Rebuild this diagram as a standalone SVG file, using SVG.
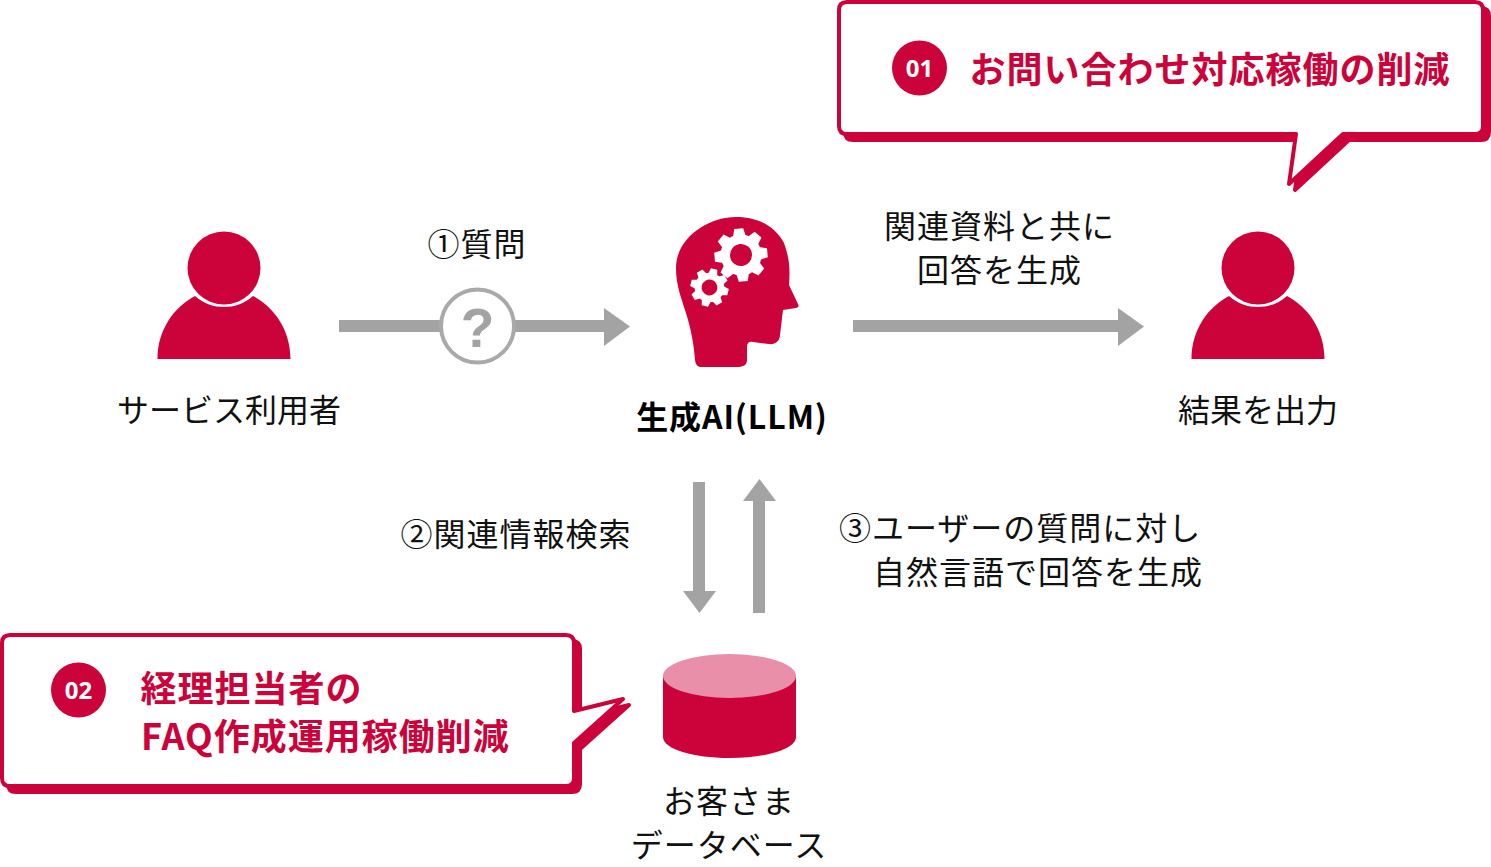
<svg xmlns="http://www.w3.org/2000/svg" width="1491" height="867" viewBox="0 0 1491 867">
<style>
text{font-family:"Noto Sans CJK JP","Noto Sans",sans-serif;font-size:32px;fill:#111}
.c{text-anchor:middle}
.s{letter-spacing:1px}
.b{font-weight:700;fill:#000;letter-spacing:.9px}
.r{fill:#cc033b}
.g{fill:#a3a3a3}
.t{font-size:36px;font-weight:700;fill:#cc033b;letter-spacing:1px}
.n{font-family:"Noto Sans",sans-serif;font-size:24px;font-weight:700;fill:#fff;text-anchor:middle}
</style>
<defs>
<g id="person"><path class="r" d="M-66.500,91 C-66.500,62 -50,39 -29,28 C-20,36 -10,39 0,39 C10,39 20,36 29,28 C50,39 66.500,62 66.500,91Z"/><circle class="r" cx="0" cy="0" r="36.500"/></g>
<path id="tooth" fill="#fff" d="M-6.500,-18 L-4.500,-26.500 H4.500 L6.500,-18Z"/>
<g id="gear"><circle r="20.500" fill="#fff"/><use href="#tooth"/><use href="#tooth" transform="rotate(45)"/><use href="#tooth" transform="rotate(90)"/><use href="#tooth" transform="rotate(135)"/><use href="#tooth" transform="rotate(180)"/><use href="#tooth" transform="rotate(225)"/><use href="#tooth" transform="rotate(270)"/><use href="#tooth" transform="rotate(315)"/><circle class="r" r="11"/></g>
</defs>
<rect width="1491" height="867" fill="#fff"/>
<g id="connectors">
<path class="g" d="M339,320H604V308L630,326.500L604,346V332H339Z"/>
<path class="g" d="M853,320H1118V308L1144,326.500L1118,346V332H853Z"/>
<path class="g" d="M693,482H705V591H716L699.500,613L683,591H693Z"/>
<path class="g" d="M753,613H765V501H776L759.500,479L743,501H753Z"/>
</g>
<g id="question"><circle cx="477.500" cy="326" r="36.500" fill="#fff" stroke="#a9a9a9" stroke-width="4"/><text class="c" x="477.500" y="347" style="font-family:'Liberation Sans',sans-serif;font-weight:700;font-size:55px;fill:#a3a3a3">?</text></g>
<g id="user"><use href="#person" x="224" y="268"/><text class="c" x="229" y="422">サービス利用者</text></g>
<g id="result"><use href="#person" x="1258" y="268"/><text class="c" x="1258" y="422">結果を出力</text></g>
<g id="llm">
<path class="r" d="M695,360 C696,366 698,367 702,367 L738,367 C743,367 747,365 747,360 L747,347 C747,343 749,341 753,342 L769,344 C776,345 780,340 780,335 L783,310 L796,308 C799,307 799,306 798,304 L789,285 C790,270 790,260 784,243 C773,222 752,217 736,217 C708,217 676,238 676,268 C676,285 681,297 685,310 C691,328 694,345 695,360Z"/>
<use href="#gear" transform="translate(741 255) rotate(-5)"/>
<use href="#gear" transform="translate(709.500 287.500) rotate(14) scale(.72)"/>
<text class="c b" x="732" y="429">生成AI(LLM)</text>
</g>
<g id="db">
<path class="r" d="M663,676V737C663,749 693,758 729.500,758S796,749 796,737V676Z"/>
<ellipse cx="729.500" cy="676" rx="66.500" ry="22" fill="#ea8fa9"/>
<text class="c s" x="729" y="813">お客さま</text><text class="c s" x="729" y="857">データベース</text>
</g>
<g id="label-q"><text class="c s" x="477" y="256">①質問</text></g>
<g id="label-gen"><text class="c s" x="999.500" y="238">関連資料と共に</text><text class="c s" x="999.500" y="282">回答を生成</text></g>
<g id="label-search"><text class="c s" x="516" y="546">②関連情報検索</text></g>
<g id="label-answer"><text class="s" x="839" y="540">③ユーザーの質問に対し</text><text class="s" x="873" y="584">自然言語で回答を生成</text></g>
<g id="callout-01">
<path class="r" stroke="#cc033b" stroke-width="4" stroke-linejoin="round" transform="translate(6 6)" d="M847,2H1475Q1483,2 1483,10V126Q1483,134 1475,134H1343L1289,184L1296,134H847Q839,134 839,126V10Q839,2 847,2Z"/>
<path fill="#fff" stroke="#cc033b" stroke-width="4" stroke-linejoin="round" d="M847,2H1475Q1483,2 1483,10V126Q1483,134 1475,134H1343L1289,184L1296,134H847Q839,134 839,126V10Q839,2 847,2Z"/>
<circle class="r" cx="919.500" cy="68" r="27.500"/><text class="n" x="919.500" y="77">01</text>
<text class="t" x="969.500" y="83">お問い合わせ対応稼働の削減</text>
</g>
<g id="callout-02">
<path class="r" stroke="#cc033b" stroke-width="4" stroke-linejoin="round" transform="translate(6 6)" d="M10,635H566Q574,635 574,643V711L623,699L574,743V778Q574,786 566,786H10Q2,786 2,778V643Q2,635 10,635Z"/>
<path fill="#fff" stroke="#cc033b" stroke-width="4" stroke-linejoin="round" d="M10,635H566Q574,635 574,643V711L623,699L574,743V778Q574,786 566,786H10Q2,786 2,778V643Q2,635 10,635Z"/>
<circle class="r" cx="78.500" cy="690" r="27.500"/><text class="n" x="78.500" y="699">02</text>
<text class="t" x="140.500" y="702">経理担当者の</text><text class="t" x="141" y="750">FAQ作成運用稼働削減</text>
</g>
</svg>
